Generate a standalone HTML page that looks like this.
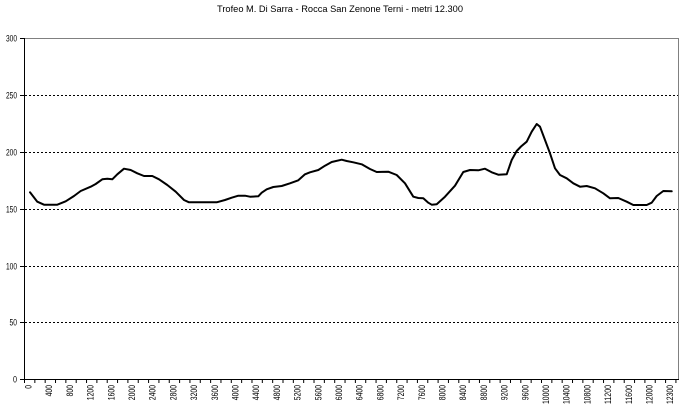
<!DOCTYPE html>
<html>
<head>
<meta charset="utf-8">
<style>
  html, body { margin: 0; padding: 0; background: #fff; }
  svg { display: block; }
  text { font-family: "Liberation Sans", Arial, sans-serif; fill: #000; }
</style>
</head>
<body>
<svg width="680" height="410" viewBox="0 0 680 410" xmlns="http://www.w3.org/2000/svg">
  <rect x="0" y="0" width="680" height="410" fill="#fff"/>
  <!-- title -->
  <text x="340" y="12" font-size="9.5" text-anchor="middle" textLength="246" lengthAdjust="spacingAndGlyphs">Trofeo M. Di Sarra - Rocca San Zenone Terni - metri 12.300</text>

  <!-- plot border -->
  <line x1="24" y1="38.5" x2="678.5" y2="38.5" stroke="#808080" stroke-width="1"/>
  <line x1="678.5" y1="38" x2="678.5" y2="379" stroke="#808080" stroke-width="1"/>

  <!-- gridlines -->
  <g stroke="#000" stroke-width="1" stroke-dasharray="2,2">
    <line x1="25" y1="95.5" x2="678" y2="95.5"/>
    <line x1="25" y1="152.5" x2="678" y2="152.5"/>
    <line x1="25" y1="209.5" x2="678" y2="209.5"/>
    <line x1="25" y1="266.5" x2="678" y2="266.5"/>
    <line x1="25" y1="322.5" x2="678" y2="322.5"/>
  </g>

  <!-- axes -->
  <line x1="24.5" y1="38" x2="24.5" y2="380" stroke="#000" stroke-width="1"/>
  <line x1="24" y1="379.5" x2="679" y2="379.5" stroke="#000" stroke-width="1"/>

  <!-- y ticks -->
  <g stroke="#000" stroke-width="1">
    <line x1="20" y1="38.5" x2="24" y2="38.5"/>
    <line x1="20" y1="95.5" x2="24" y2="95.5"/>
    <line x1="20" y1="152.5" x2="24" y2="152.5"/>
    <line x1="20" y1="209.5" x2="24" y2="209.5"/>
    <line x1="20" y1="266.5" x2="24" y2="266.5"/>
    <line x1="20" y1="322.5" x2="24" y2="322.5"/>
    <line x1="20" y1="379.5" x2="24" y2="379.5"/>
  </g>

  <!-- y labels -->
  <g font-size="9" text-anchor="end">
    <text x="17" y="41.5" textLength="11" lengthAdjust="spacingAndGlyphs">300</text>
    <text x="17" y="98.5" textLength="11" lengthAdjust="spacingAndGlyphs">250</text>
    <text x="17" y="155.5" textLength="11" lengthAdjust="spacingAndGlyphs">200</text>
    <text x="17" y="212.5" textLength="11" lengthAdjust="spacingAndGlyphs">150</text>
    <text x="17" y="269.5" textLength="11" lengthAdjust="spacingAndGlyphs">100</text>
    <text x="17" y="325.5" textLength="7.5" lengthAdjust="spacingAndGlyphs">50</text>
    <text x="17" y="382.5" textLength="4" lengthAdjust="spacingAndGlyphs">0</text>
  </g>

  <!-- x ticks -->
  <g stroke="#000" stroke-width="1" id="xt"></g>

  <!-- x labels -->
  <g font-size="9" text-anchor="end" id="xl"></g>

  <!-- profile -->
  <path fill="none" stroke="#000" stroke-width="2" stroke-linejoin="round" stroke-linecap="round"
    d="M30,192.3 L37.3,201.7 L44,204.7 L57.3,204.7 L65.7,201.3 L74,196 L80.7,191 L90.7,186.7 L95.7,184 L102.3,179.3 L107.3,178.7 L112.3,179.3 L117.3,174.3 L124,168.7 L130.7,170 L137.3,173.3 L144,176 L152.3,176 L159,179.3 L167.3,185 L175.7,191.7 L184,200 L189,202.3 L216.7,202.3 L225,200 L231.7,197.7 L238.3,195.7 L245,195.7 L250,196.7 L258.3,196.3 L261.7,192.7 L266.7,189.3 L273.3,187 L281.7,186 L290,183.3 L298.3,180.3 L305,174.3 L310,172.3 L318.3,170 L325,165.7 L331.7,162 L341.7,159.7 L346.7,161 L353.3,162.3 L361.7,164.3 L370,169 L376.7,172 L388.3,171.7 L396.7,175 L405,183.3 L413.3,196.7 L418.3,198 L423.3,198.3 L428.3,202.7 L431.7,204.7 L436.7,204.3 L445,196.7 L455,185.7 L463.3,172 L470,170 L478.3,170.3 L485,168.7 L491.7,172.3 L498.3,174.7 L506.7,174.3 L511.7,160 L516.7,151 L521,146.5 L526.7,141.7 L531.7,131.7 L536.7,124 L540,126.7 L545,140 L550,153.3 L555,168.3 L560,175 L566.7,178.3 L573.3,183.3 L580,186.7 L586.7,186 L595,188.3 L603.3,193.3 L610,198.3 L618.3,198 L626.7,201.7 L633.3,205 L646.7,205 L651.7,202.7 L656.7,196 L663.3,191 L671.7,191.3"/>

  <script>
    (function(){
      var ns = "http://www.w3.org/2000/svg";
      var xt = document.getElementById("xt");
      for (var k = 0; k <= 63; k++) {
        var x = 24.5 + k * 10.34;
        if (x > 679) break;
        var l = document.createElementNS(ns, "line");
        l.setAttribute("x1", x); l.setAttribute("x2", x);
        l.setAttribute("y1", 379); l.setAttribute("y2", 383);
        xt.appendChild(l);
      }
      var labels = ["0","400","800","1200","1600","2000","2400","2800","3200","3600","4000","4400","4800","5200","5600","6000","6400","6800","7200","7600","8000","8400","8800","9200","9600","10000","10400","10800","11200","11600","12000","12300"];
      var xl = document.getElementById("xl");
      for (var i = 0; i < labels.length; i++) {
        var cx = 28.5 + i * 20.7;
        var t = document.createElementNS(ns, "text");
        var bx = cx + 3;
        t.setAttribute("x", 0); t.setAttribute("y", 0);
        t.setAttribute("transform", "translate(" + bx + ",385) rotate(-90)");
        t.setAttribute("textLength", (labels[i].length * 3.8).toFixed(1));
        t.setAttribute("lengthAdjust", "spacingAndGlyphs");
        t.textContent = labels[i];
        xl.appendChild(t);
      }
    })();
  </script>
</svg>
</body>
</html>
